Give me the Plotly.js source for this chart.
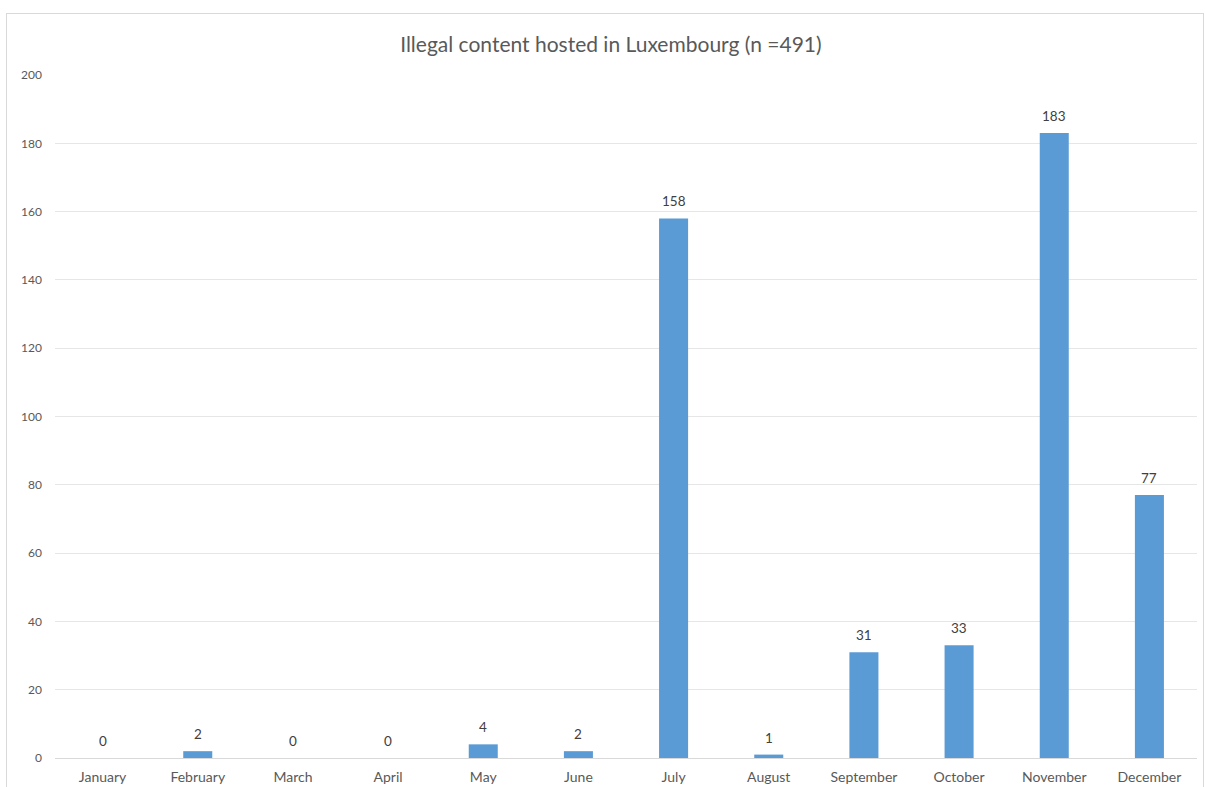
<!DOCTYPE html>
<html>
<head>
<meta charset="utf-8">
<script src="https://cdn.plot.ly/plotly-3.0.1.min.js"></script>
<style>
  html, body { margin: 0; padding: 0; background: #fff; }
  #chart { width: 1205px; height: 787px; }
  #frame { position: absolute; left: 6px; top: 13px; width: 1196px; height: 790px; border: 1px solid #d9d9d9; pointer-events: none; }
</style>
</head>
<body>
<div id="chart"></div>
<div id="frame"></div>
<script>
const months = ["January","February","March","April","May","June","July","August","September","October","November","December"];
const counts = [0, 2, 0, 0, 4, 2, 158, 1, 31, 33, 183, 77];
const chartTitle = "Illegal content hosted in Luxembourg (n =491)";
const yTicks = [0, 20, 40, 60, 80, 100, 120, 140, 160, 180, 200];

const FONT = 'Lato, "Open Sans", sans-serif';

const trace = {
  type: 'bar',
  x: months,
  y: counts,
  marker: { color: '#5B9BD5' },
  hoverinfo: 'x+y'
};

const labels = months.map((m, i) => ({
  x: m,
  y: counts[i],
  xref: 'x',
  yref: 'y',
  text: String(counts[i]),
  showarrow: false,
  yanchor: 'bottom',
  yshift: 7,
  font: { family: FONT, size: 13.5, color: '#404040' }
}));

const layout = {
  width: 1205,
  height: 787,
  margin: { l: 55, r: 8, t: 75, b: 29 },
  paper_bgcolor: '#ffffff',
  plot_bgcolor: '#ffffff',
  bargap: 0.695,
  showlegend: false,
  font: { family: FONT, color: '#595959', size: 12 },
  title: {
    text: chartTitle,
    font: { family: FONT, size: 21, color: '#595959' },
    xref: 'container', x: 0.507, xanchor: 'center',
    yref: 'container', y: 0.943, yanchor: 'middle'
  },
  annotations: labels,
  xaxis: {
    type: 'category',
    showgrid: false,
    showline: true,
    linecolor: '#d9d9d9',
    linewidth: 1,
    ticks: '',
    ticklabelstandoff: 6,
    tickfont: { size: 14, color: '#595959' },
    fixedrange: true
  },
  yaxis: {
    range: [0, 200],
    tickvals: yTicks,
    ticktext: yTicks.map(String),
    showgrid: true,
    gridcolor: '#e6e6e6',
    gridwidth: 1,
    zeroline: false,
    showline: false,
    ticks: '',
    ticklabelstandoff: 12,
    tickfont: { size: 12, color: '#595959' },
    fixedrange: true
  }
};

Plotly.newPlot('chart', [trace], layout, { displayModeBar: false, staticPlot: true });
</script>
</body>
</html>
